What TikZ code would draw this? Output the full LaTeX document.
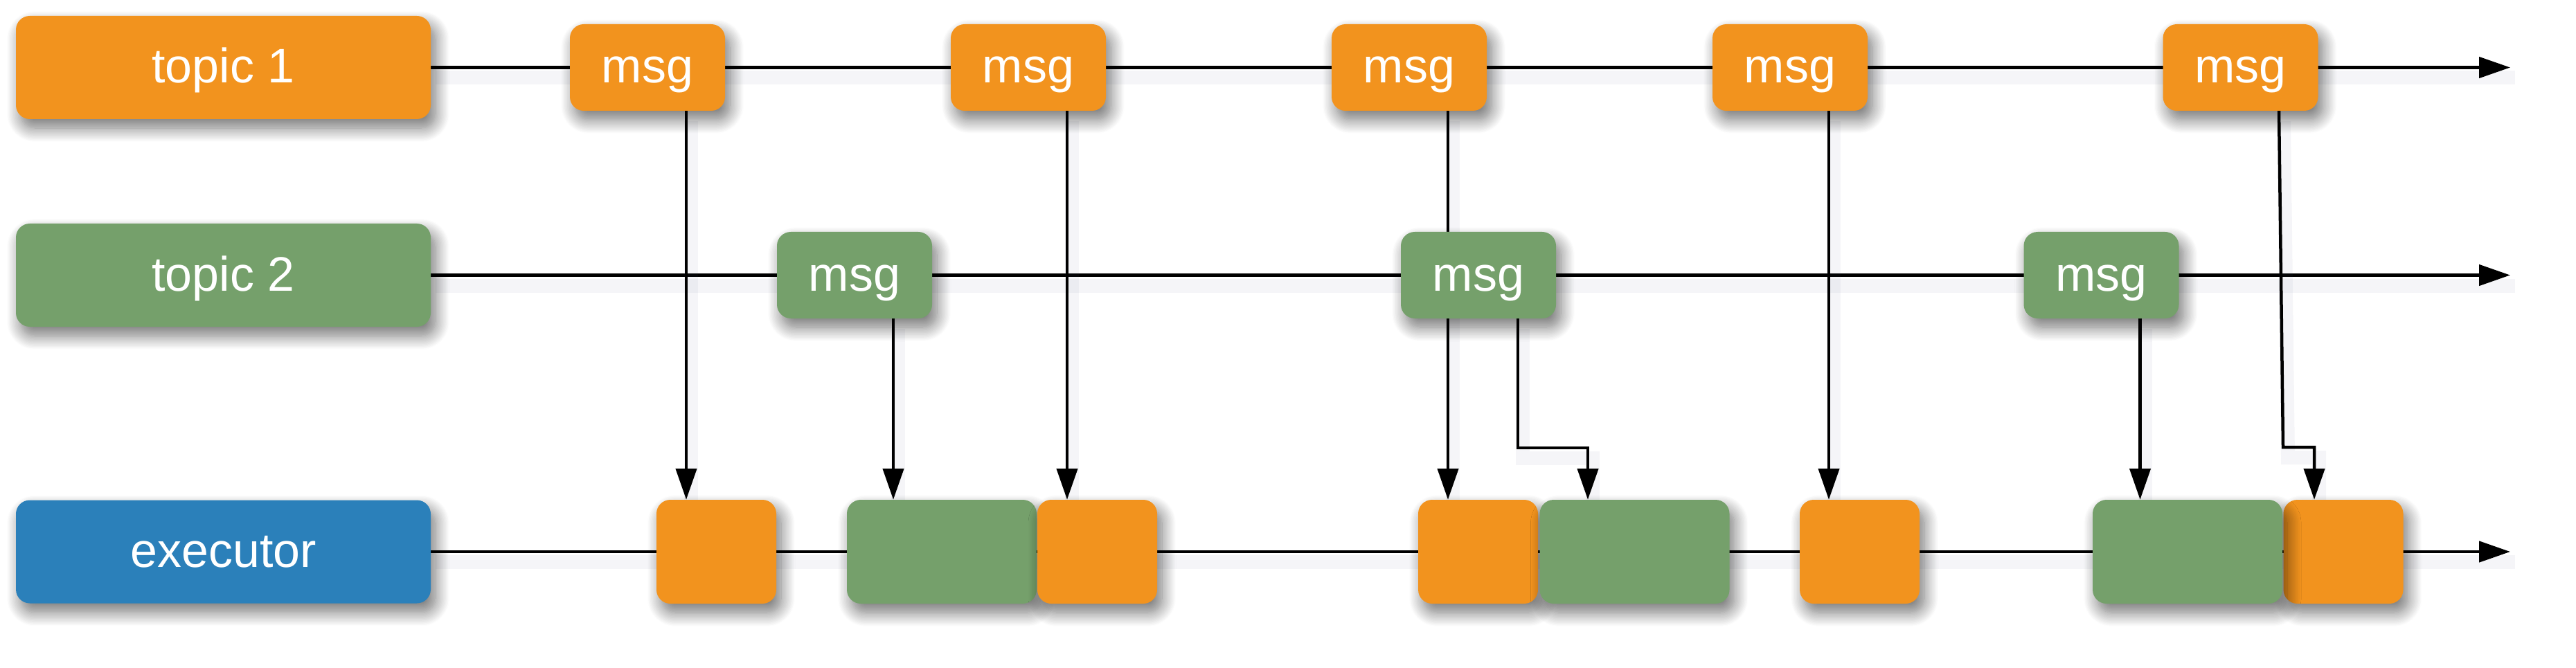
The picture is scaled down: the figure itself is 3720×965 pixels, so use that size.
\documentclass[tikz,border=0pt]{standalone}
\usepackage{fontspec}
\setmainfont{Liberation Sans}
\usetikzlibrary{arrows.meta,shadows.blur,backgrounds}
\definecolor{orng}{HTML}{F2931E}
\definecolor{grn}{HTML}{75A06B}
\definecolor{blu}{HTML}{2B80BA}
\definecolor{shdc}{HTML}{4E5884}
\tikzset{
  shd/.style={blur shadow={shadow xshift=7pt, shadow yshift=-13pt, shadow blur radius=20pt, shadow blur steps=16, shadow opacity=55, fill=shdc}},
  box/.style={shd, rounded corners=20pt, inner sep=0pt, text=white,
    font=\fontsize{70}{80}\selectfont, text height=50pt, text depth=5pt, align=center},
  lbl/.style={box, minimum width=599pt, minimum height=149pt},
  msgbox/.style={box, minimum width=224pt, minimum height=125pt},
  slot/.style={shd, rounded corners=20pt, inner sep=0pt, minimum height=150pt},
  oslot/.style={slot, fill=orng, minimum width=173pt},
  gslot/.style={slot, fill=grn, minimum width=274pt},
  wire/.style={line width=4.5pt, black,
    preaction={draw=shdc, draw opacity=0.06, line width=20pt, arrows=-,
      transform canvas={shift={(7pt,-15pt)}}}},
  arr/.style={wire, -{Triangle[length=45pt,width=30pt]}},
  tap/.style={xshift=56pt},
}
\begin{document}
\begin{tikzpicture}[x=1pt,y=-1pt]
\useasboundingbox (0,0) rectangle (3720,965);
% labels
\node[lbl, fill=orng] (t1) at (322.5,97.5) {topic 1};
\node[lbl, fill=grn]  (t2) at (322.5,397.5) {topic 2};
\node[lbl, fill=blu]  (ex) at (322.5,797) {executor};
% topic 1 messages
\node[msgbox, fill=orng] (a1) at (935,97.5) {msg};
\node[msgbox, fill=orng] (a2) at (1485,97.5) {msg};
\node[msgbox, fill=orng] (a3) at (2035,97.5) {msg};
\node[msgbox, fill=orng] (a4) at (2585,97.5) {msg};
\node[msgbox, fill=orng] (a5) at (3235.5,97.5) {msg};
% topic 2 messages
\node[msgbox, fill=grn] (b1) at (1234,397.5) {msg};
\node[msgbox, fill=grn] (b2) at (2135,397.5) {msg};
\node[msgbox, fill=grn] (b3) at (3034.5,397.5) {msg};
% executor slots
\node[oslot] (o1) at (1034.5,797) {};
\node[gslot] (g1) at (1360,797) {};
\node[oslot] (o2) at (1584.5,797) {};
\node[oslot] (o3) at (2134.5,797) {};
\node[gslot] (g2) at (2360.5,797) {};
\node[oslot] (o4) at (2685.5,797) {};
\node[oslot] (o5) at (3384,797) {};
\node[gslot] (g3) at (3159,797) {};
% end points of the time lines
\coordinate (e1) at (3625,97.5);
\coordinate (e2) at (3625,397.5);
\coordinate (e3) at (3625,797);
\begin{scope}[on background layer]
  \draw[arr] (t1.east) -- (e1);
  \draw[arr] (t2.east) -- (e2);
  \draw[arr] (ex.east) -- (e3);
  \draw[arr] ([tap]a1.south) -- ([tap]a1.south |- o1.north);
  \draw[arr] ([tap]b1.south) -- ([tap]b1.south |- g1.north);
  \draw[arr] ([tap]a2.south) -- ([tap]a2.south |- o2.north);
  \draw[arr] ([tap]a3.south) -- ([tap]a3.south |- o3.north);
  \draw[arr] ([tap]a4.south) -- ([tap]a4.south |- o4.north);
  \draw[arr] ([tap]b3.south) -- ([tap]b3.south |- g3.north);
  \draw[arr] ([xshift=57pt]b2.south) -- ++(0,187) -| ([xshift=-67.5pt]g2.north);
  \draw[arr] ([xshift=55.5pt]a5.south) -- ++(6,486) -| ([xshift=-42pt]o5.north);
\end{scope}
\end{tikzpicture}
\end{document}
